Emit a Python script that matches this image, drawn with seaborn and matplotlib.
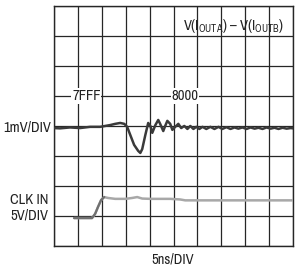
import matplotlib
matplotlib.use("Agg")
import matplotlib.pyplot as plt
import seaborn as sns
import pandas as pd

# Upper trace: V(IOUTA)-V(IOUTB), x in divisions (5ns/DIV), y in divisions
diff_x = [0, 0.25, 0.67, 1.09, 1.51, 1.93, 2.14, 2.35, 2.56, 2.77, 2.94, 3.06, 3.19, 3.35,
          3.52, 3.61, 3.69, 3.82, 3.94, 4.03, 4.11, 4.24, 4.36, 4.44, 4.57, 4.65, 4.74, 4.86,
          4.95, 5.07, 5.2, 5.32, 5.45, 5.58, 5.7, 5.83, 5.95, 6.08, 6.21, 6.37, 6.54, 6.71,
          6.88, 7.04, 7.21, 7.38, 7.55, 7.71, 7.88, 8.05, 8.22, 8.39, 8.55, 8.72, 8.89, 9.06,
          9.22, 9.39, 9.56, 9.73, 9.9, 10.0]
diff_y = [3.93, 3.92, 3.95, 3.93, 3.97, 3.97, 4.0, 4.03, 4.07, 4.1, 4.07, 3.97, 3.7, 3.37,
          3.17, 3.1, 3.23, 3.7, 4.1, 4.0, 3.77, 4.03, 4.2, 4.07, 3.83, 4.0, 4.17, 4.07,
          3.87, 3.97, 4.07, 3.93, 4.0, 3.9, 4.0, 3.9, 3.97, 3.9, 3.97, 3.9, 3.97, 3.9,
          3.97, 3.9, 3.96, 3.9, 3.95, 3.91, 3.95, 3.9, 3.95, 3.91, 3.94, 3.9, 3.95, 3.91,
          3.94, 3.9, 3.94, 3.91, 3.93, 3.92]

# Lower trace: CLK IN
clk_x = [0.84, 1.59, 1.72, 1.84, 1.97, 2.1, 2.26, 2.56, 2.98, 3.27, 3.48, 3.69, 4.03,
         4.86, 5.28, 5.49, 10.0]
clk_y = [0.93, 0.93, 1.07, 1.3, 1.53, 1.63, 1.6, 1.57, 1.57, 1.6, 1.63, 1.58, 1.57,
         1.57, 1.55, 1.52, 1.52]

code_labels = ["7FFF", "8000"]
code_x = [1.35, 5.47]

sns.set_style("white")
fam = ["Archivo Narrow", "DejaVu Sans"]
plt.rcParams["font.family"] = fam
plt.rcParams["mathtext.fontset"] = "custom"
plt.rcParams["mathtext.rm"] = "Archivo Narrow"

fs = 10.5
fig = plt.figure(figsize=(3.0, 2.7), dpi=100)
ax = fig.add_axes([0.18, 0.089, 0.797, 0.889])

df_diff = pd.DataFrame({"x": diff_x, "y": diff_y})
df_clk = pd.DataFrame({"x": clk_x, "y": clk_y})

sns.lineplot(data=df_clk, x="x", y="y", ax=ax, color="#a8a8a8", lw=1.8, sort=False, zorder=3)
sns.lineplot(data=df_clk.iloc[:6], x="x", y="y", ax=ax, color="#707070", lw=1.6, sort=False, zorder=3)
sns.lineplot(data=df_diff, x="x", y="y", ax=ax, color="#3a3a3a", lw=1.8, sort=False, zorder=4)

ax.set_xlim(0, 10)
ax.set_ylim(0, 8)
ax.set_xticks(range(11))
ax.set_yticks(range(9))
ax.set_xticklabels([])
ax.set_yticklabels([])
ax.tick_params(length=0)
ax.grid(True, color="#262626", lw=0.9)
ax.set_axisbelow(True)
ax.set_xlabel("")
ax.set_ylabel("")
for s in ax.spines.values():
    s.set_color("#262626")
    s.set_linewidth(1.0)

for lab, xx in zip(code_labels, code_x):
    ax.text(xx, 5.0, lab, ha="center", va="center", fontsize=fs, color="#222222",
            bbox=dict(facecolor="white", edgecolor="none", pad=0.5), zorder=5)

ax.text(9.6, 7.33, r"V(I$_{\mathrm{OUTA}}$) – V(I$_{\mathrm{OUTB}}$)", ha="right", va="center",
        fontsize=fs, color="#222222", zorder=5)

fig.text(0.01, 1 - 128 / 270, "1mV/DIV", ha="left", va="center", fontsize=fs, color="#222222")
fig.text(0.033, 1 - 200 / 270, "CLK IN", ha="left", va="center", fontsize=fs, color="#222222")
fig.text(0.033, 1 - 215 / 270, "5V/DIV", ha="left", va="center", fontsize=fs, color="#222222")
fig.text(173 / 300, 1 - 259 / 270, "5ns/DIV", ha="center", va="center", fontsize=fs, color="#222222")

fig.savefig("out.png", dpi=100)
